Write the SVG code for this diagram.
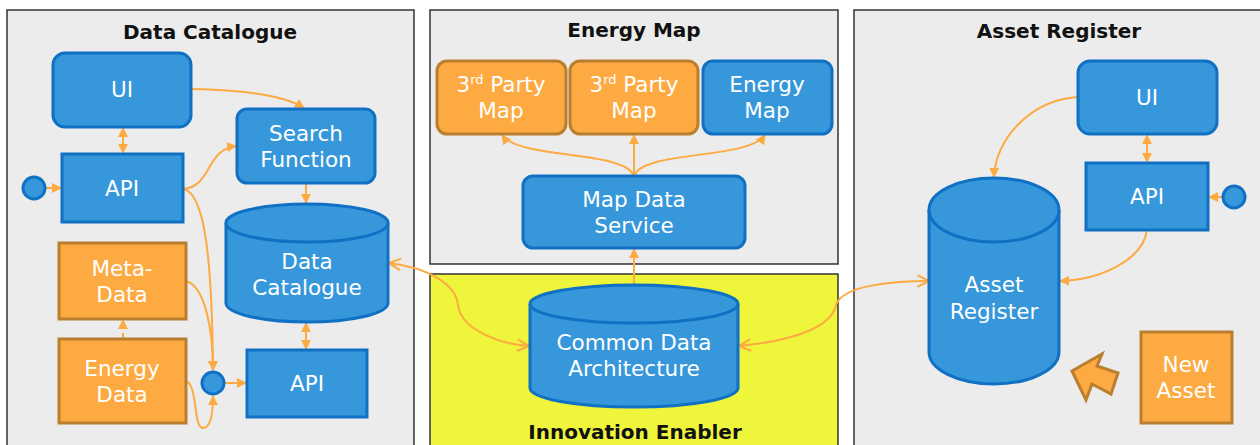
<svg xmlns="http://www.w3.org/2000/svg" width="1260" height="445" viewBox="0 0 1260 445">
<defs>
<style>
.panel{fill:#ececec;stroke:#333;stroke-width:1.5}
.blue{fill:#3797db;stroke:#1070c4;stroke-width:3}
.orange{fill:#fdaa42;stroke:#b97f2e;stroke-width:3}
.t{font-family:"DejaVu Sans","Noto Sans",sans-serif;font-size:21.5px;fill:#fff;text-anchor:middle}
.title{font-family:"DejaVu Sans","Noto Sans",sans-serif;font-size:20px;font-weight:bold;fill:#111;text-anchor:middle}
.c{fill:none;stroke:#fdaa42;stroke-width:2}
.sup{font-size:13px}
</style>
<marker id="ah" viewBox="0 0 10 10" refX="9" refY="5" markerWidth="10" markerHeight="10" markerUnits="userSpaceOnUse" orient="auto-start-reverse">
<path d="M0,0 L10,5 L0,10 Z" fill="#fdaa42"/>
</marker>
<marker id="oh" viewBox="0 0 12 12" refX="11" refY="6" markerWidth="14" markerHeight="14" markerUnits="userSpaceOnUse" orient="auto-start-reverse">
<path d="M1,1 L11,6 L1,11" fill="none" stroke="#fdaa42" stroke-width="1.8"/>
</marker>
</defs>

<g id="panels">
<rect class="panel" x="7" y="10" width="407" height="445"/>
<rect class="panel" x="430" y="10" width="408" height="254"/>
<rect x="430" y="274" width="408" height="180" fill="#eef53b" stroke="#333" stroke-width="1.5"/>
<rect class="panel" x="854" y="10" width="420" height="445"/>
<text class="title" x="210" y="39">Data Catalogue</text>
<text class="title" x="634" y="37">Energy Map</text>
<text class="title" x="1059" y="38">Asset Register</text>
<text class="title" x="635" y="439">Innovation Enabler</text>
</g>

<g id="connectors">
<path class="c" d="M191,89 C245,90 285,96 304,108" marker-end="url(#ah)"/>
<path class="c" d="M123,128 V153" marker-start="url(#ah)" marker-end="url(#ah)"/>
<path class="c" d="M46,188 H61" marker-end="url(#ah)"/>
<path class="c" d="M183,189 C212,187 205,150 236,146" marker-end="url(#ah)"/>
<path class="c" d="M183,189 C205,192 212,260 213,370" marker-end="url(#ah)"/>
<path class="c" d="M186,281 C205,286 213,330 213,370" marker-end="url(#ah)"/>
<path class="c" d="M186,381 C198,385 193,428 203,428 C212,428 213,408 213,396" marker-end="url(#ah)"/>
<path class="c" d="M123,339 V320" stroke-dasharray="6,4" marker-end="url(#ah)"/>
<path class="c" d="M225,383 H246" marker-end="url(#ah)"/>
<path class="c" d="M306,184 V203" marker-end="url(#ah)"/>
<path class="c" d="M306,323 V349" marker-start="url(#ah)" marker-end="url(#ah)"/>
<path class="c" d="M389,263 C430,268 456,285 458,305 C461,330 500,344 529,346" marker-start="url(#oh)" marker-end="url(#oh)"/>
<path class="c" d="M739,346 C800,340 832,325 836,305 C842,286 890,281 929,281" marker-start="url(#oh)" marker-end="url(#oh)"/>
<path class="c" d="M634,285 V249" marker-end="url(#ah)"/>
<path class="c" d="M634,176 C625,150 520,160 502,135" marker-end="url(#ah)"/>
<path class="c" d="M634,176 V135" marker-end="url(#ah)"/>
<path class="c" d="M634,176 C643,150 748,160 765,135" marker-end="url(#ah)"/>
<path class="c" d="M1078,97 C1030,100 995,140 994,177" marker-end="url(#ah)"/>
<path class="c" d="M1147,135 V162" marker-start="url(#ah)" marker-end="url(#ah)"/>
<path class="c" d="M1222,197 H1209" marker-end="url(#ah)"/>
<path class="c" d="M1147,230 C1143,260 1100,280 1060,281" marker-end="url(#ah)"/>
</g>

<g id="dc-ui"><rect class="blue" x="53" y="53" width="138" height="74" rx="12"/><text class="t" x="122" y="97">UI</text></g>
<g id="dc-api"><rect class="blue" x="62" y="154" width="121" height="68"/><text class="t" x="122" y="196">API</text></g>
<g id="dc-in"><circle class="blue" cx="34" cy="188" r="11"/></g>
<g id="dc-search"><rect class="blue" x="237" y="109" width="138" height="74" rx="10"/><text class="t" x="306" y="141">Search</text><text class="t" x="306" y="167">Function</text></g>
<g id="dc-db">
<path class="blue" d="M226,223 V303 A81,19 0 0 0 388,303 V223"/>
<ellipse class="blue" cx="307" cy="223" rx="81" ry="19"/>
<text class="t" x="307" y="269">Data</text><text class="t" x="307" y="295">Catalogue</text>
</g>
<g id="dc-meta"><rect class="orange" x="59" y="243" width="127" height="76"/><text class="t" x="122" y="276">Meta-</text><text class="t" x="122" y="302">Data</text></g>
<g id="dc-energy"><rect class="orange" x="59" y="339" width="127" height="84"/><text class="t" x="122" y="376">Energy</text><text class="t" x="122" y="402">Data</text></g>
<g id="dc-junction"><circle class="blue" cx="213" cy="383" r="11"/></g>
<g id="dc-api2"><rect class="blue" x="247" y="350" width="120" height="67"/><text class="t" x="307" y="391">API</text></g>

<g id="em-3p1"><rect class="orange" x="437" y="61" width="129" height="73" rx="10"/><text class="t" x="501" y="92">3<tspan class="sup" dy="-8">rd</tspan><tspan dy="8"> Party</tspan></text><text class="t" x="501" y="118">Map</text></g>
<g id="em-3p2"><rect class="orange" x="570" y="61" width="128" height="73" rx="10"/><text class="t" x="634" y="92">3<tspan class="sup" dy="-8">rd</tspan><tspan dy="8"> Party</tspan></text><text class="t" x="634" y="118">Map</text></g>
<g id="em-map"><rect class="blue" x="703" y="61" width="129" height="73" rx="10"/><text class="t" x="767" y="92">Energy</text><text class="t" x="767" y="118">Map</text></g>
<g id="em-mds"><rect class="blue" x="523" y="176" width="222" height="72" rx="10"/><text class="t" x="634" y="207">Map Data</text><text class="t" x="634" y="233">Service</text></g>

<g id="cda">
<path class="blue" d="M530,304 V388 A104,19 0 0 0 738,388 V304"/>
<ellipse class="blue" cx="634" cy="304" rx="104" ry="19"/>
<text class="t" x="634" y="350">Common Data</text><text class="t" x="634" y="376">Architecture</text>
</g>

<g id="ar-ui"><rect class="blue" x="1078" y="61" width="139" height="73" rx="12"/><text class="t" x="1147" y="105">UI</text></g>
<g id="ar-api"><rect class="blue" x="1086" y="163" width="122" height="67"/><text class="t" x="1147" y="204">API</text></g>
<g id="ar-in"><circle class="blue" cx="1234" cy="197" r="11"/></g>
<g id="ar-db">
<path class="blue" d="M929,210 V352 A65,32 0 0 0 1059,352 V210"/>
<ellipse class="blue" cx="994" cy="210" rx="65" ry="32"/>
<text class="t" x="994" y="292">Asset</text><text class="t" x="994" y="319">Register</text>
</g>
<g id="ar-new"><rect class="orange" x="1141" y="332" width="91" height="91"/><text class="t" x="1186" y="372">New</text><text class="t" x="1186" y="398">Asset</text></g>
<g id="ar-arrow"><polygon class="orange" points="1072,371 1102,354 1097,366 1118,373 1111,394 1092,384 1086,400"/></g>
</svg>
